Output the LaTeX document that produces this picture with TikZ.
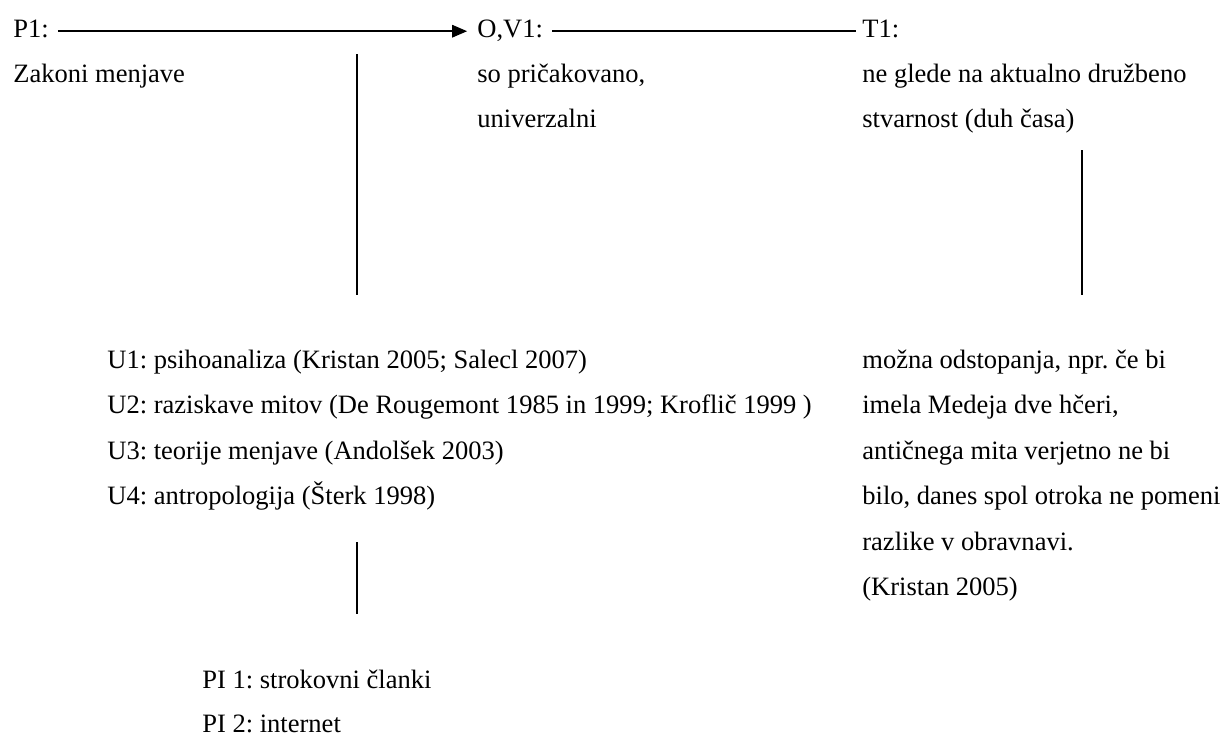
\documentclass[tikz,border=0pt]{standalone}
\usepackage{fontspec}
\setmainfont{Liberation Serif}
\usetikzlibrary{arrows.meta}
\frenchspacing
\tikzstyle{txt}=[anchor=base west, inner sep=0pt, font=\fontsize{15.1}{18}\selectfont, text height=0.9em, text depth=0.24em]
\tikzstyle{link}=[line width=1.1pt]

\begin{document}
\begin{tikzpicture}[x=0.02cm, y=-0.02cm]
    \useasboundingbox (0,0) rectangle (1226,738);

    % top rows
    \foreach \pos/\name/\label in {{(13,37)/p1/P1:}, {(477,37)/ov1/{O,V1:}}, {(862,37)/t1/T1:}}
        \node[txt] (\name) at \pos {\label};

    \foreach \pos/\name/\label in {{(13,82)/zak/Zakoni menjave}, {(477,82)/so/{so pričakovano,}}, {(862,82)/ne/ne glede na aktualno družbeno}}
        \node[txt] (\name) at \pos {\label};

    \foreach \pos/\name/\label in {{(477,127)/uni/univerzalni}, {(862,127)/stv/stvarnost (duh časa)}}
        \node[txt] (\name) at \pos {\label};

    % U block
    \foreach \y/\name/\label in {368/u1/U1: psihoanaliza (Kristan 2005; Salecl 2007),
        413.5/u2/U2: raziskave mitov (De Rougemont 1985 in 1999; Kroflič 1999 ),
        459/u3/U3: teorije menjave (Andolšek 2003),
        504.5/u4/U4: antropologija (Šterk 1998)}
        \node[txt] (\name) at (107,\y) {\label};

    % right block
    \foreach \y/\name/\label in {368/r1/{možna odstopanja, npr. če bi},
        413.5/r2/{imela Medeja dve hčeri,},
        459/r3/antičnega mita verjetno ne bi,
        504.5/r4/{bilo, danes spol otroka ne pomeni},
        550/r5/razlike v obravnavi.,
        595.5/r6/(Kristan 2005)}
        \node[txt] (\name) at (862,\y) {\label};

    % sources
    \foreach \y/\name/\label in {688/pi1/PI 1: strokovni članki, 732/pi2/PI 2: internet}
        \node[txt] (\name) at (202,\y) {\label};

    \coordinate (a1) at (357,54);
    \coordinate (a2) at (357,295);
    \coordinate (b1) at (1082,150);
    \coordinate (b2) at (1082,295);
    \coordinate (c1) at (357,542);
    \coordinate (c2) at (357,614);

       \draw[link, shorten <=5pt, shorten >=5.6pt, -{Triangle[length=8.5pt, width=7pt]}] (p1) to (ov1);
       \draw[link, shorten <=5pt, shorten >=3.4pt] (ov1) to (t1);

       \draw[link] (a1) to (a2);
       \draw[link] (b1) to (b2);
       \draw[link] (c1) to (c2);

\end{tikzpicture}
\end{document}
